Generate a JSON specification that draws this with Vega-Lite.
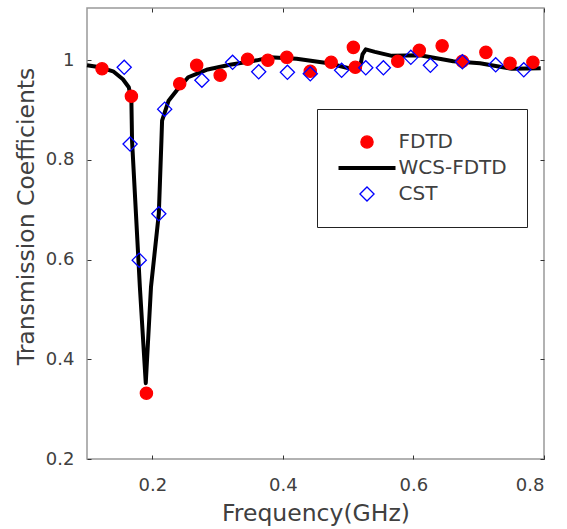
{
  "$schema": "https://vega.github.io/schema/vega-lite/v6.json",
  "width": 457,
  "height": 451,
  "autosize": {"type": "none"},
  "padding": {"left": 87, "top": 8, "right": 23, "bottom": 70},
  "background": "white",
  "config": {
    "view": {"stroke": "#999999", "strokeWidth": 1.5},
    "font": "DejaVu Sans",
    "axis": {
      "domain": false,
      "grid": false,
      "ticks": true,
      "tickSize": -4,
      "tickColor": "#333333",
      "labelFont": "DejaVu Sans",
      "labelFontSize": 18,
      "labelColor": "#404040",
      "titleFont": "DejaVu Sans",
      "titleFontSize": 23.5,
      "titleFontWeight": "normal",
      "titleColor": "#404040"
    }
  },
  "data": {
    "values": [
      {"series": "FDTD", "f": 0.123, "t": 0.983},
      {"series": "FDTD", "f": 0.168, "t": 0.928},
      {"series": "FDTD", "f": 0.191, "t": 0.332},
      {"series": "FDTD", "f": 0.242, "t": 0.953},
      {"series": "FDTD", "f": 0.268, "t": 0.990},
      {"series": "FDTD", "f": 0.304, "t": 0.970},
      {"series": "FDTD", "f": 0.346, "t": 1.002},
      {"series": "FDTD", "f": 0.377, "t": 1.000},
      {"series": "FDTD", "f": 0.406, "t": 1.006},
      {"series": "FDTD", "f": 0.442, "t": 0.978},
      {"series": "FDTD", "f": 0.474, "t": 0.996},
      {"series": "FDTD", "f": 0.508, "t": 1.026},
      {"series": "FDTD", "f": 0.511, "t": 0.986},
      {"series": "FDTD", "f": 0.576, "t": 0.998},
      {"series": "FDTD", "f": 0.609, "t": 1.020},
      {"series": "FDTD", "f": 0.644, "t": 1.029},
      {"series": "FDTD", "f": 0.675, "t": 0.998},
      {"series": "FDTD", "f": 0.711, "t": 1.016},
      {"series": "FDTD", "f": 0.748, "t": 0.994},
      {"series": "FDTD", "f": 0.783, "t": 0.996},
      {"series": "CST", "f": 0.157, "t": 0.986},
      {"series": "CST", "f": 0.166, "t": 0.832},
      {"series": "CST", "f": 0.180, "t": 0.599},
      {"series": "CST", "f": 0.210, "t": 0.692},
      {"series": "CST", "f": 0.219, "t": 0.902},
      {"series": "CST", "f": 0.276, "t": 0.960},
      {"series": "CST", "f": 0.323, "t": 0.996},
      {"series": "CST", "f": 0.363, "t": 0.977},
      {"series": "CST", "f": 0.407, "t": 0.976},
      {"series": "CST", "f": 0.442, "t": 0.973},
      {"series": "CST", "f": 0.490, "t": 0.980},
      {"series": "CST", "f": 0.527, "t": 0.985},
      {"series": "CST", "f": 0.554, "t": 0.985},
      {"series": "CST", "f": 0.596, "t": 1.006},
      {"series": "CST", "f": 0.626, "t": 0.990},
      {"series": "CST", "f": 0.675, "t": 0.997},
      {"series": "CST", "f": 0.726, "t": 0.991},
      {"series": "CST", "f": 0.769, "t": 0.981},
      {"series": "WCS-FDTD", "f": 0.100, "t": 0.990},
      {"series": "WCS-FDTD", "f": 0.120, "t": 0.986},
      {"series": "WCS-FDTD", "f": 0.140, "t": 0.978},
      {"series": "WCS-FDTD", "f": 0.155, "t": 0.962},
      {"series": "WCS-FDTD", "f": 0.164, "t": 0.946},
      {"series": "WCS-FDTD", "f": 0.168, "t": 0.919},
      {"series": "WCS-FDTD", "f": 0.169, "t": 0.839},
      {"series": "WCS-FDTD", "f": 0.181, "t": 0.545},
      {"series": "WCS-FDTD", "f": 0.190, "t": 0.352},
      {"series": "WCS-FDTD", "f": 0.198, "t": 0.545},
      {"series": "WCS-FDTD", "f": 0.210, "t": 0.692},
      {"series": "WCS-FDTD", "f": 0.214, "t": 0.839},
      {"series": "WCS-FDTD", "f": 0.215, "t": 0.879},
      {"series": "WCS-FDTD", "f": 0.225, "t": 0.919},
      {"series": "WCS-FDTD", "f": 0.237, "t": 0.939},
      {"series": "WCS-FDTD", "f": 0.255, "t": 0.966},
      {"series": "WCS-FDTD", "f": 0.283, "t": 0.981},
      {"series": "WCS-FDTD", "f": 0.319, "t": 0.991},
      {"series": "WCS-FDTD", "f": 0.360, "t": 1.000},
      {"series": "WCS-FDTD", "f": 0.380, "t": 1.006},
      {"series": "WCS-FDTD", "f": 0.421, "t": 1.003},
      {"series": "WCS-FDTD", "f": 0.470, "t": 0.994},
      {"series": "WCS-FDTD", "f": 0.501, "t": 0.984},
      {"series": "WCS-FDTD", "f": 0.518, "t": 0.985},
      {"series": "WCS-FDTD", "f": 0.522, "t": 1.012},
      {"series": "WCS-FDTD", "f": 0.527, "t": 1.022},
      {"series": "WCS-FDTD", "f": 0.541, "t": 1.017},
      {"series": "WCS-FDTD", "f": 0.567, "t": 1.009},
      {"series": "WCS-FDTD", "f": 0.610, "t": 1.010},
      {"series": "WCS-FDTD", "f": 0.661, "t": 0.998},
      {"series": "WCS-FDTD", "f": 0.702, "t": 0.994},
      {"series": "WCS-FDTD", "f": 0.737, "t": 0.986},
      {"series": "WCS-FDTD", "f": 0.751, "t": 0.983},
      {"series": "WCS-FDTD", "f": 0.795, "t": 0.984}
    ]
  },
  "layer": [
    {
      "transform": [{"filter": "datum.series === 'WCS-FDTD'"}],
      "mark": {"type": "line", "color": "black", "strokeWidth": 4, "strokeJoin": "round"},
      "encoding": {
        "x": {
          "field": "f", "type": "quantitative",
          "scale": {"domain": [0.1, 0.8], "nice": false, "zero": false},
          "axis": {"orient": "bottom", "values": [0.2, 0.4, 0.6, 0.8], "format": ".1f", "title": "Frequency(GHz)", "labelPadding": 21, "titlePadding": 7}
        },
        "y": {
          "field": "t", "type": "quantitative",
          "scale": {"domain": [0.2, 1.105], "nice": false, "zero": false},
          "axis": {"orient": "left", "values": [0.2, 0.4, 0.6, 0.8, 1], "format": "~g", "title": "Transmission Coefficients", "labelPadding": 17, "titlePadding": 7, "titleY": 208}
        }
      }
    },
    {
      "transform": [{"filter": "datum.series !== 'WCS-FDTD'"}],
      "mark": {"type": "point", "filled": false, "opacity": 1},
      "encoding": {
        "x": {
          "field": "f", "type": "quantitative",
          "axis": {"orient": "top", "values": [0.2, 0.4, 0.6, 0.8], "labels": false, "title": null}
        },
        "y": {
          "field": "t", "type": "quantitative",
          "axis": {"orient": "right", "values": [0.2, 0.4, 0.6, 0.8, 1], "labels": false, "title": null}
        },
        "color": {
          "field": "series", "type": "nominal",
          "scale": {"domain": ["FDTD", "WCS-FDTD", "CST"], "range": ["#ff0000", "#000000", "#0000ff"]},
          "legend": {
            "orient": "none",
            "legendX": 230,
            "legendY": 101,
            "title": null,
            "values": ["FDTD", "WCS-FDTD", "CST"],
            "strokeColor": "#222222",
            "fillColor": "white",
            "padding": 20,
            "clipHeight": 26,
            "symbolOffset": -0.5,
            "labelOffset": 1,
            "rowPadding": 0,
            "labelLimit": 120,
            "labelFont": "DejaVu Sans",
            "labelFontSize": 20,
            "labelColor": "#404040"
          }
        },
        "fill": {
          "field": "series", "type": "nominal",
          "scale": {"domain": ["FDTD", "WCS-FDTD", "CST"], "range": ["#ff0000", "transparent", "transparent"]}
        },
        "shape": {
          "field": "series", "type": "nominal",
          "scale": {"domain": ["FDTD", "WCS-FDTD", "CST"], "range": ["circle", "stroke", "diamond"]}
        },
        "size": {
          "field": "series", "type": "nominal",
          "scale": {"type": "ordinal", "domain": ["FDTD", "WCS-FDTD", "CST"], "range": [150, 3249, 200]}
        },
        "strokeWidth": {
          "field": "series", "type": "nominal",
          "scale": {"type": "ordinal", "domain": ["FDTD", "WCS-FDTD", "CST"], "range": [1.3, 4, 1.3]}
        }
      }
    }
  ],
  "resolve": {"axis": {"x": "independent", "y": "independent"}}
}
